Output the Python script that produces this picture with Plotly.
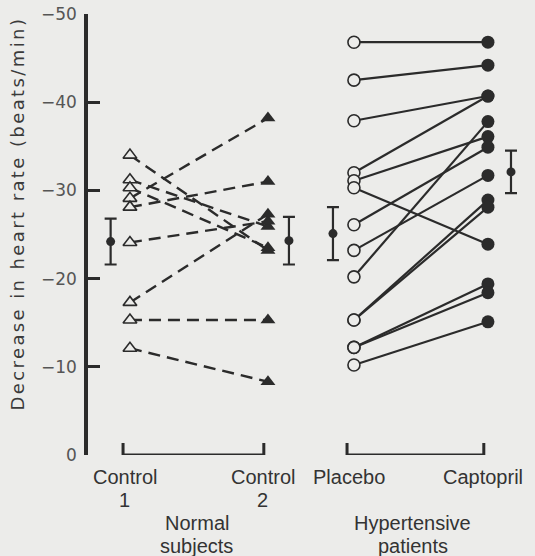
import plotly.graph_objects as go

# ---- data (decrease in heart rate, beats/min; plotted as positive heights, labelled negative) ----
categories = ["Control 1", "Control 2", "Placebo", "Captopril"]
cat_label_lines = [["Control", "1"], ["Control", "2"], ["Placebo"], ["Captopril"]]
group_labels = [["Normal", "subjects"], ["Hypertensive", "patients"]]

normal_control1 = [34.0, 31.2, 30.3, 29.1, 28.1, 24.1, 17.3, 15.3, 12.1]
normal_control2 = [23.2, 25.9, 23.5, 38.2, 31.0, 26.5, 27.3, 15.3, 8.3]

patients_placebo = [46.8, 42.5, 37.9, 32.0, 31.1, 30.3, 26.1, 23.2, 20.2, 15.3, 15.3, 12.2, 12.2, 10.2]
patients_captopril = [46.8, 44.2, 40.7, 40.7, 36.1, 23.9, 34.9, 31.7, 37.8, 28.9, 28.1, 19.4, 18.4, 15.1]

normal_mean = [24.2, 24.3]
normal_err = [2.6, 2.7]
patient_mean = [25.1, 32.1]
patient_err = [3.0, 2.4]

ytick_vals = [0, 10, 20, 30, 40, 50]
ytick_text = ["0", "\u221210", "\u221220", "\u221230", "\u221240", "\u221250"]
y_title = "Decrease in heart rate (beats/min)"

# ---- styling / layout positions ----
cat_pos = [0.0, 1.0, 1.623, 2.594]
mean_off = [-0.14, 0.152, -0.152, 0.167]
BG = "#ececea"
INK = "#2b2b2b"
FONT = "Liberation Sans, Arial, sans-serif"

fig = go.Figure()

# dashed lines for normal subjects
xs, ys = [], []
for a, b in zip(normal_control1, normal_control2):
    xs += [cat_pos[0], cat_pos[1], None]
    ys += [a, b, None]
fig.add_trace(go.Scatter(x=xs, y=ys, mode="lines",
                         line=dict(color=INK, width=2.4, dash="12px,7px"),
                         hoverinfo="skip", showlegend=False))

# solid lines for patients
xs, ys = [], []
for a, b in zip(patients_placebo, patients_captopril):
    xs += [cat_pos[2], cat_pos[3], None]
    ys += [a, b, None]
fig.add_trace(go.Scatter(x=xs, y=ys, mode="lines",
                         line=dict(color=INK, width=2.2),
                         hoverinfo="skip", showlegend=False))

# markers
fig.add_trace(go.Scatter(x=[cat_pos[0]] * len(normal_control1), y=normal_control1, mode="markers",
                         marker=dict(symbol="triangle-up", size=12, color=BG,
                                     line=dict(color=INK, width=1.6)), showlegend=False))
fig.add_trace(go.Scatter(x=[cat_pos[1]] * len(normal_control2), y=normal_control2, mode="markers",
                         marker=dict(symbol="triangle-up", size=13, color=INK,
                                     line=dict(color=INK, width=0)), showlegend=False))
fig.add_trace(go.Scatter(x=[cat_pos[2]] * len(patients_placebo), y=patients_placebo, mode="markers",
                         marker=dict(symbol="circle", size=12, color=BG,
                                     line=dict(color=INK, width=1.6)), showlegend=False))
fig.add_trace(go.Scatter(x=[cat_pos[3]] * len(patients_captopril), y=patients_captopril, mode="markers",
                         marker=dict(symbol="circle", size=13, color=INK,
                                     line=dict(color=INK, width=0)), showlegend=False))

# means +/- error
fig.add_trace(go.Scatter(
    x=[cat_pos[0] + mean_off[0], cat_pos[1] + mean_off[1]], y=normal_mean, mode="markers",
    marker=dict(symbol="circle", size=9, color=INK),
    error_y=dict(type="data", array=normal_err, color=INK, thickness=2.2, width=6),
    showlegend=False))
fig.add_trace(go.Scatter(
    x=[cat_pos[2] + mean_off[2], cat_pos[3] + mean_off[3]], y=patient_mean, mode="markers",
    marker=dict(symbol="circle", size=9, color=INK),
    error_y=dict(type="data", array=patient_err, color=INK, thickness=2.2, width=6),
    showlegend=False))

# brackets under each group
shapes = []
for g0, g1 in [(0, 1), (2, 3)]:
    x0 = cat_pos[g0] - 0.05
    x1 = cat_pos[g1] - 0.03
    shapes.append(dict(type="path", xref="x", yref="y",
                       path=f"M {x0},1.35 L {x0},0 L {x1},0 L {x1},1.35",
                       line=dict(color=INK, width=3)))

annotations = []
# category labels
line_shift = [-22, -45]
for i, lines in enumerate(cat_label_lines):
    for j, t in enumerate(lines):
        annotations.append(dict(x=cat_pos[i], y=0, xref="x", yref="y", text=t,
                                showarrow=False, xanchor="center", yanchor="middle",
                                xshift=-5, yshift=line_shift[j],
                                font=dict(family=FONT, size=20, color="#333")))
# group labels
group_mid = [(cat_pos[0] + cat_pos[1]) / 2, (cat_pos[2] + cat_pos[3]) / 2]
group_xshift = [-2, -8]
group_shift = [-68, -91]
for g, lines in enumerate(group_labels):
    for j, t in enumerate(lines):
        annotations.append(dict(x=group_mid[g], y=0, xref="x", yref="y", text=t,
                                showarrow=False, xanchor="center", yanchor="middle",
                                xshift=group_xshift[g], yshift=group_shift[j],
                                font=dict(family=FONT, size=20, color="#333")))
# y title
annotations.append(dict(x=0, y=0.5, xref="paper", yref="paper",
                        text=f'<span style="letter-spacing:2.4px">{y_title}</span>',
                        textangle=-90, showarrow=False, xanchor="center", yanchor="middle",
                        xshift=-71, yshift=21,
                        font=dict(family="DejaVu Sans, sans-serif", size=18, color="#3a3a3a")))

fig.update_layout(
    width=535, height=556,
    margin=dict(l=88, r=0, t=14, b=101),
    paper_bgcolor=BG, plot_bgcolor=BG,
    showlegend=False,
    shapes=shapes, annotations=annotations,
    xaxis=dict(range=[-0.304, 2.935], visible=False, showgrid=False, zeroline=False),
    yaxis=dict(range=[0, 50], showgrid=False, zeroline=False,
               showline=True, linewidth=3.5, linecolor=INK,
               ticks="inside", ticklen=12, tickwidth=3, tickcolor=INK,
               tickvals=ytick_vals, ticktext=ytick_text,
               tickfont=dict(family="DejaVu Sans, sans-serif", size=17, color="#555"),
               ticklabelstandoff=4),
)

fig.write_html("out.html")
